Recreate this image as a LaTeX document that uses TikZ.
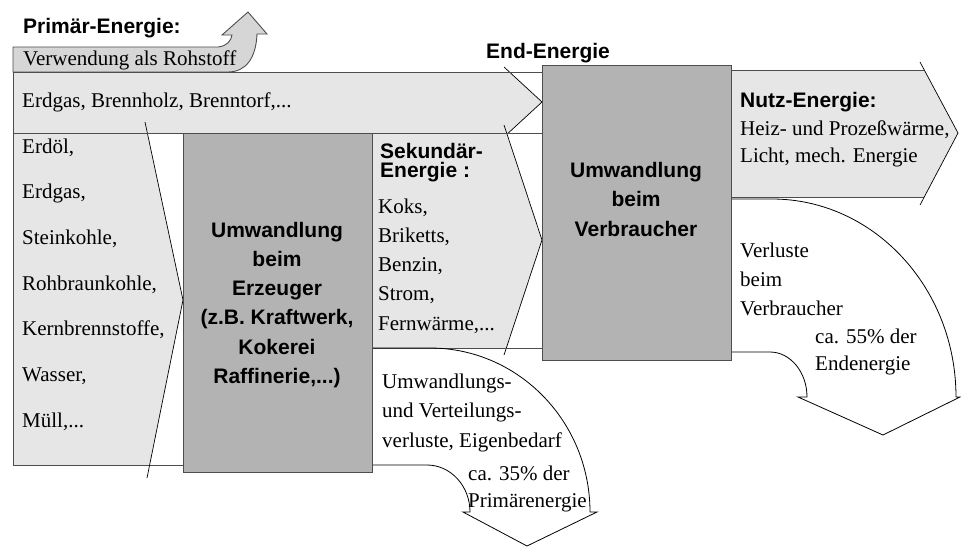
\documentclass[tikz,border=0pt]{standalone}
\usepackage{fontspec}
\setmainfont{Liberation Serif}
\newfontfamily\labfont{Liberation Sans}
\definecolor{band}{HTML}{E6E6E6}
\definecolor{bandd}{HTML}{D6D6D6}
\definecolor{boxg}{HTML}{B3B3B3}
\definecolor{edge}{HTML}{4D4D4D}
\begin{document}
\begin{tikzpicture}[x=1pt,y=-1pt,
  ser/.style={font=\fontsize{21}{#1}\selectfont, inner sep=0pt, align=left, anchor=base west},
  ser/.default=29.3,
  lab/.style={font=\labfont\bfseries\fontsize{21}{#1}\selectfont, inner sep=0pt},
  lab/.default=29.3,
  edgeline/.style={draw=edge, line width=0.9pt},
  headline/.style={draw=black, line width=0.7pt, line join=miter},
  convbox/.style={fill=boxg, draw=edge, line width=1.2pt, inner sep=0pt, anchor=north west},
  loss/.style={draw=black, line width=0.8pt, line join=miter}]
\useasboundingbox (0,0) rectangle (961,547);

% raw material band with upward arrow
\path[fill=bandd, draw=edge, line width=0.9pt] (13,47) -- (218,47)
  .. controls (227,46) and (231,41) .. (232,35) -- (222,35) -- (248,12) -- (267,34) -- (257,34)
  .. controls (256,58) and (246,72) .. (228,72) -- (13,72) -- cycle;

% Erdgas band
\fill[band] (13,72) -- (509.4,72) -- (542,102) -- (508.3,133) -- (13,133) -- cycle;
\draw[headline] (504,67) -- (542,102) -- (508.3,133);

% primary energy column
\fill[band] (13,133) -- (147.3,133) -- (183,300) -- (149.6,465) -- (13,465) -- cycle;
\draw[edgeline] (13,72) -- (13,465) -- (183,465);
\draw[headline] (145,122) -- (183,300) -- (147,478);

% secondary energy band
\fill[band] (372,133) -- (506.6,133) -- (542,240) -- (506.6,348) -- (372,348) -- cycle;
\draw[headline] (504,125) -- (542,240) -- (504,355);

\draw[edgeline] (13,72) -- (542,72);
\draw[edgeline] (13,133) -- (542,133);
\draw[edgeline] (372,348) -- (542,348);

% useful energy arrow
\fill[band] (731,70) -- (924.3,70) -- (958,133) -- (924.2,197) -- (731,197) -- cycle;
\draw[edgeline] (731,70) -- (924.3,70);
\draw[edgeline] (731,197) -- (924.2,197);
\draw[headline] (920,62) -- (958,133) -- (920,205);

% loss arrows
\draw[loss] (731,199) -- (772,199) .. controls (873.6,199) and (956,287.7) .. (956,397)
  -- (960,397) -- (883,435) -- (798,397) -- (807,397)
  .. controls (807,372.2) and (790.4,352) .. (770,352) -- (731,352);
\draw[loss] (372,348) -- (430,348) .. controls (518.3,348) and (590,421.5) .. (590,512)
  -- (597,512) -- (527,546) -- (463,512) -- (470,512)
  .. controls (470,486) and (450.7,465) .. (427,465) -- (372,465);

% conversion boxes
\node[convbox, minimum width=189pt, minimum height=339pt] (erz) at (183,133) {};
\node[convbox, minimum width=189pt, minimum height=295pt] (vb) at (542,65) {};

% texts (multi-line nodes are anchored at the baseline of their last line)
\node[lab, anchor=base west] (prim) at (23,33) {Primär-Energie:};
\node[ser] (rohst) at (23,65) {Verwendung als Rohstoff};
\node[ser] (erdg) at (22,107) {Erdgas, Brennholz, Brenntorf,...};
\node[ser=45.7] (primlist) at (22,427.2) {Erdöl,\\Erdgas,\\Steinkohle,\\Rohbraunkohle,\\Kernbrennstoffe,\\Wasser,\\Müll,...};
\node[lab, anchor=base] (endl) at (548,58) {End-Energie};
\node[lab, align=center, anchor=base] (erztext) at (277,383.5) {Umwandlung\\beim\\Erzeuger\\(z.B. Kraftwerk,\\Kokerei\\Raffinerie,...)};
\node[lab=19, align=left, anchor=base west] (sekhead) at (380,177) {Sekundär-\\Energie :};
\node[ser] (seklist) at (378,330.2) {Koks,\\Briketts,\\Benzin,\\Strom,\\Fernwärme,...};
\node[lab=29.5, align=center, anchor=base] (vbtext) at (636,236) {Umwandlung\\beim\\Verbraucher};
\node[lab, anchor=base west] (nutz) at (740,107) {Nutz-Energie:};
\node[ser=27] (nutzlist) at (740,162) {Heiz- und Prozeßwärme,\\Licht, mech. Energie};
\node[ser=29] (verl) at (740,315) {Verluste\\beim\\Verbraucher};
\node[ser=27] (verlp) at (815,370) {ca. 55\% der\\Endenergie};
\node[ser=29.5] (uml) at (382,447) {Umwandlungs-\\und Verteilungs-\\verluste, Eigenbedarf};
\node[ser=27] (umlp) at (468,507) {ca. 35\% der\\Primärenergie};
\end{tikzpicture}
\end{document}
